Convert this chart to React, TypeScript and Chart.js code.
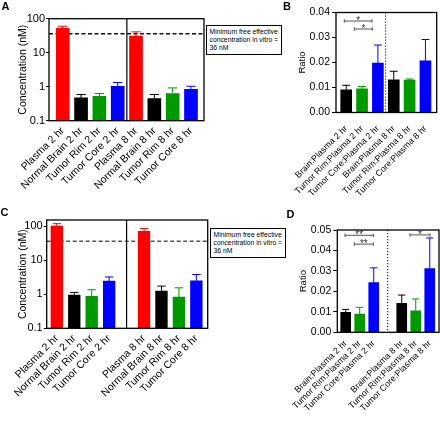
import React, { useEffect, useRef } from "react";
import { Chart, registerables } from "chart.js";

Chart.register(...registerables);

const FONT = 'Arial, "Liberation Sans", Helvetica, sans-serif';

// ---------- Data ----------
const concLabels = [
  "Plasma 2 hr",
  "Normal Brain 2 hr",
  "Tumor Rim 2 hr",
  "Tumor Core 2 hr",
  "Plasma 8 hr",
  "Normal Brain 8 hr",
  "Tumor Rim 8 hr",
  "Tumor Core 8 hr",
];
const concColors = ["#ff0000", "#000000", "#009900", "#0000ff", "#ff0000", "#000000", "#009900", "#0000ff"];

// Panel A (concentration, nM)
const aPositions = [1, 2, 3, 4, 5, 6, 7, 8];
const aMeans = [52, 0.47, 0.52, 1.03, 31, 0.45, 0.63, 0.83];
const aErrors = [8, 0.12, 0.11, 0.3, 10, 0.14, 0.29, 0.2];

// Panel C (concentration, nM)
const cPositions = [1, 2, 3, 4, 6, 7, 8, 9];
const cMeans = [100, 0.94, 0.86, 2.41, 70, 1.23, 0.82, 2.47];
const cErrors = [17, 0.19, 0.49, 0.79, 14, 0.5, 0.72, 1.32];

const logTicks = [0.1, 1, 10, 100];
const thresholdNM = 36;

const ratioLabels = [
  "Brain:Plasma 2 hr",
  "Tumor Rim:Plasma 2 hr",
  "Tumor Core:Plasma 2 hr",
  "Brain:Plasma 8 hr",
  "Tumor Rim:Plasma 8 hr",
  "Tumor Core:Plasma 8 hr",
];
const ratioColors = ["#000000", "#009900", "#0000ff", "#000000", "#009900", "#0000ff"];

// Panel B (ratio)
const bPositions = [1, 2, 3, 4, 5, 6];
const bMeans = [0.0091, 0.0095, 0.0198, 0.0131, 0.013, 0.0207];
const bErrors = [0.0018, 0.0009, 0.0072, 0.0034, 0.0004, 0.0085];
const bTicks = [0, 0.01, 0.02, 0.03, 0.04];
const bBrackets: [number, number, number, string][] = [
  [0.88, 2.63, 0.0366, "*"],
  [1.51, 2.65, 0.0334, "*"],
];

// Panel D (ratio)
const dPositions = [1, 2, 3, 5, 6, 7];
const dMeans = [0.0098, 0.0089, 0.0243, 0.0141, 0.0105, 0.0311];
const dErrors = [0.0014, 0.0033, 0.0072, 0.0041, 0.0058, 0.015];
const dTicks = [0, 0.01, 0.02, 0.03, 0.04, 0.05];
const dBrackets: [number, number, number, string][] = [
  [0.95, 2.97, 0.0474, "**"],
  [1.61, 2.97, 0.0431, "**"],
  [5.59, 7.02, 0.0476, "*"],
];

// ---------- Panel specs ----------
type Panel = {
  positions: number[];
  labels: string[];
  means: number[];
  errors: number[];
  colors: string[];
  yType: "logarithmic" | "linear";
  yMin: number;
  yMax: number;
  yTicks: number[];
  yFormat: (v: number) => string;
  yTitle: string;
  xMin: number;
  xMax: number;
  divider: number;
  dotted: boolean;
  threshold?: number;
  thresholdColor?: string;
  brackets?: [number, number, number, string][];
  area: { left: number; right: number; top: number; bottom: number };
  titleX: number;
  titleSize: number;
  tickSize: number;
  xTickSize: number;
  barThickness: number;
  yTickLen: number;
  yTickPad: number;
  xTickPad: number;
};

const fmtLog = (v: number) => (v < 1 ? String(v) : String(Math.round(v)));
const fmtRatio = (v: number) => v.toFixed(2);

const panels: Panel[] = [
  {
    positions: aPositions,
    labels: concLabels,
    means: aMeans,
    errors: aErrors,
    colors: concColors,
    yType: "logarithmic",
    yMin: 0.1,
    yMax: 100,
    yTicks: logTicks,
    yFormat: fmtLog,
    yTitle: "Concentration (nM)",
    xMin: 0.25,
    xMax: 8.71,
    divider: 4.5,
    dotted: false,
    threshold: thresholdNM,
    thresholdColor: "#111",
    area: { left: 49, right: 204, top: 18.7, bottom: 120.7 },
    titleX: 23.3,
    titleSize: 10.5,
    tickSize: 11,
    xTickSize: 10.5,
    barThickness: 13,
    yTickLen: 3,
    yTickPad: 1,
    xTickPad: 4,
  },
  {
    positions: bPositions,
    labels: ratioLabels,
    means: bMeans,
    errors: bErrors,
    colors: ratioColors,
    yType: "linear",
    yMin: 0,
    yMax: 0.04,
    yTicks: bTicks,
    yFormat: fmtRatio,
    yTitle: "Ratio",
    xMin: 0.356,
    xMax: 6.71,
    divider: 3.49,
    dotted: true,
    brackets: bBrackets,
    area: { left: 336, right: 436.7, top: 12.5, bottom: 112.5 },
    titleX: 302.5,
    titleSize: 9.5,
    tickSize: 10.5,
    xTickSize: 8.8,
    barThickness: 11,
    yTickLen: 4,
    yTickPad: 2,
    xTickPad: 11,
  },
  {
    positions: cPositions,
    labels: concLabels,
    means: cMeans,
    errors: cErrors,
    colors: concColors,
    yType: "logarithmic",
    yMin: 0.1,
    yMax: 150,
    yTicks: logTicks,
    yFormat: fmtLog,
    yTitle: "Concentration (nM)",
    xMin: 0.42,
    xMax: 9.65,
    divider: 5,
    dotted: false,
    threshold: thresholdNM,
    thresholdColor: "#555",
    area: { left: 46.7, right: 207.7, top: 220, bottom: 328.3 },
    titleX: 23.3,
    titleSize: 10.5,
    tickSize: 11,
    xTickSize: 10.5,
    barThickness: 11.7,
    yTickLen: 3,
    yTickPad: 1,
    xTickPad: 4,
  },
  {
    positions: dPositions,
    labels: ratioLabels,
    means: dMeans,
    errors: dErrors,
    colors: ratioColors,
    yType: "linear",
    yMin: 0,
    yMax: 0.05,
    yTicks: dTicks,
    yFormat: fmtRatio,
    yTitle: "Ratio",
    xMin: 0.4,
    xMax: 7.66,
    divider: 4,
    dotted: true,
    brackets: dBrackets,
    area: { left: 337.3, right: 439, top: 230, bottom: 332.3 },
    titleX: 303,
    titleSize: 9.5,
    tickSize: 10.5,
    xTickSize: 8.8,
    barThickness: 10,
    yTickLen: 4,
    yTickPad: 2,
    xTickPad: 6,
  },
];

const W = 440;
const H = 421;
const X_AXIS_H = 90;

function decorPlugin(p: Panel) {
  return {
    id: "decor",
    beforeDatasetsDraw(chart: any) {
      const { ctx, chartArea: a, scales } = chart;
      const x = scales.x;
      const y = scales.y;
      ctx.save();
      if (p.threshold !== undefined) {
        const yy = y.getPixelForValue(p.threshold);
        ctx.setLineDash([4, 2.5]);
        ctx.strokeStyle = p.thresholdColor || "#000";
        ctx.lineWidth = 1.5;
        ctx.beginPath();
        ctx.moveTo(a.left, yy);
        ctx.lineTo(a.right, yy);
        ctx.stroke();
      }
      const dx = x.getPixelForValue(p.divider);
      ctx.setLineDash(p.dotted ? [1.2, 1.8] : []);
      ctx.strokeStyle = "#000";
      ctx.lineWidth = p.dotted ? 1 : 1.2;
      ctx.beginPath();
      ctx.moveTo(dx, a.top);
      ctx.lineTo(dx, a.bottom);
      ctx.stroke();
      ctx.restore();
    },
    afterDatasetsDraw(chart: any) {
      const { ctx, chartArea: a, scales } = chart;
      const x = scales.x;
      const y = scales.y;
      const meta = chart.getDatasetMeta(0);
      ctx.save();
      ctx.setLineDash([]);
      meta.data.forEach((bar: any, i: number) => {
        const top = y.getPixelForValue(p.means[i] + p.errors[i]);
        const cap = p.barThickness * 0.72;
        ctx.strokeStyle = p.colors[i];
        ctx.lineWidth = 1;
        ctx.beginPath();
        ctx.moveTo(bar.x, bar.y);
        ctx.lineTo(bar.x, top);
        ctx.moveTo(bar.x - cap / 2, top);
        ctx.lineTo(bar.x + cap / 2, top);
        ctx.stroke();
      });
      (p.brackets || []).forEach(([x1, x2, yv, label]) => {
        const px1 = x.getPixelForValue(x1);
        const px2 = x.getPixelForValue(x2);
        const py = y.getPixelForValue(yv);
        ctx.strokeStyle = "#555";
        ctx.lineWidth = 1;
        ctx.beginPath();
        ctx.moveTo(px1, py);
        ctx.lineTo(px2, py);
        ctx.moveTo(px1, py - 1.8);
        ctx.lineTo(px1, py + 1.8);
        ctx.moveTo(px2, py - 1.8);
        ctx.lineTo(px2, py + 1.8);
        ctx.stroke();
        ctx.fillStyle = "#333";
        ctx.font = `10px ${FONT}`;
        ctx.textAlign = "center";
        ctx.textBaseline = "alphabetic";
        ctx.fillText(label, (px1 + px2) / 2, py + 3);
      });
      ctx.strokeStyle = "#000";
      ctx.lineWidth = 1.3;
      ctx.strokeRect(a.left, a.top, a.right - a.left, a.bottom - a.top);
      ctx.restore();
    },
  };
}

function makeConfig(p: Panel): any {
  const titleLH = p.titleSize * 1.2;
  const yAxisLeft = p.titleX - titleLH / 2;
  const yWidth = p.area.left - yAxisLeft;
  return {
    type: "bar",
    data: {
      datasets: [
        {
          data: p.positions.map((xv, i) => ({ x: xv, y: p.means[i] })),
          backgroundColor: p.colors,
          borderWidth: 0,
          barThickness: p.barThickness,
        },
      ],
    },
    options: {
      animation: false,
      responsive: false,
      devicePixelRatio: 1,
      events: [],
      layout: {
        padding: {
          left: yAxisLeft,
          top: p.area.top,
          right: W - p.area.right,
          bottom: H - p.area.bottom - X_AXIS_H,
        },
      },
      plugins: {
        legend: { display: false },
        tooltip: { enabled: false },
        title: { display: false },
      },
      scales: {
        x: {
          type: "linear",
          min: p.xMin,
          max: p.xMax,
          offset: false,
          grid: { display: false, drawTicks: false },
          border: { display: false },
          afterBuildTicks: (s: any) => {
            s.ticks = p.positions.map((v) => ({ value: v }));
          },
          afterFit: (s: any) => {
            s.height = X_AXIS_H;
            s.paddingLeft = 0;
            s.paddingRight = 0;
          },
          ticks: {
            autoSkip: false,
            minRotation: 45,
            maxRotation: 45,
            padding: p.xTickPad,
            color: "#000",
            font: { family: FONT, size: p.xTickSize },
            callback: (v: number) => {
              const i = p.positions.indexOf(v);
              return i >= 0 ? p.labels[i] : "";
            },
          },
        },
        y: {
          type: p.yType,
          min: p.yMin,
          max: p.yMax,
          grid: {
            display: true,
            drawOnChartArea: false,
            drawTicks: true,
            tickLength: p.yTickLen,
            color: "#000",
            lineWidth: 1,
          },
          border: { display: false },
          afterBuildTicks: (s: any) => {
            s.ticks = p.yTicks.map((v) => ({ value: v }));
          },
          afterFit: (s: any) => {
            s.width = yWidth;
            s.paddingTop = 0;
            s.paddingBottom = 0;
          },
          ticks: {
            autoSkip: false,
            padding: p.yTickPad,
            color: "#000",
            font: { family: FONT, size: p.tickSize },
            callback: (v: number) => p.yFormat(v),
          },
          title: {
            display: true,
            text: p.yTitle,
            color: "#000",
            font: { family: FONT, size: p.titleSize, lineHeight: 1.2 },
            padding: { top: 0, bottom: 0 },
          },
        },
      },
    },
    plugins: [decorPlugin(p)],
  };
}

function PanelChart({ panel }: { panel: Panel }) {
  const ref = useRef<HTMLCanvasElement | null>(null);
  useEffect(() => {
    if (!ref.current) return;
    const chart = new Chart(ref.current, makeConfig(panel));
    return () => chart.destroy();
  }, [panel]);
  return (
    <canvas
      ref={ref}
      width={W}
      height={H}
      style={{ position: "absolute", left: 0, top: 0, width: W, height: H, pointerEvents: "none" }}
    />
  );
}

const letterStyle: React.CSSProperties = {
  position: "absolute",
  fontFamily: FONT,
  fontWeight: "bold",
  fontSize: 11,
  lineHeight: "11px",
  color: "#000",
};

const boxStyle: React.CSSProperties = {
  position: "absolute",
  boxSizing: "border-box",
  width: 76,
  border: "1px solid #000",
  padding: "2px 0.5px 2px 2.5px",
  fontFamily: FONT,
  fontSize: 6.8,
  lineHeight: "8px",
  color: "#000",
  whiteSpace: "nowrap",
  background: "#fff",
};

function LegendBox({ left, top }: { left: number; top: number }) {
  return (
    <div style={{ ...boxStyle, left, top }}>
      Minimum free effective
      <br />
      concentration in vitro =
      <br />
      36 nM
    </div>
  );
}

export default function App() {
  return (
    <div
      style={{
        position: "fixed",
        left: 0,
        top: 0,
        width: W,
        height: H,
        background: "#fff",
        overflow: "hidden",
      }}
    >
      {panels.map((p, i) => (
        <PanelChart key={i} panel={p} />
      ))}
      <div style={{ ...letterStyle, left: 1.5, top: 0.5 }}>A</div>
      <div style={{ ...letterStyle, left: 283, top: 0.5 }}>B</div>
      <div style={{ ...letterStyle, left: 0.5, top: 207 }}>C</div>
      <div style={{ ...letterStyle, left: 286.5, top: 209 }}>D</div>
      <LegendBox left={206} top={25} />
      <LegendBox left={210} top={228} />
    </div>
  );
}
